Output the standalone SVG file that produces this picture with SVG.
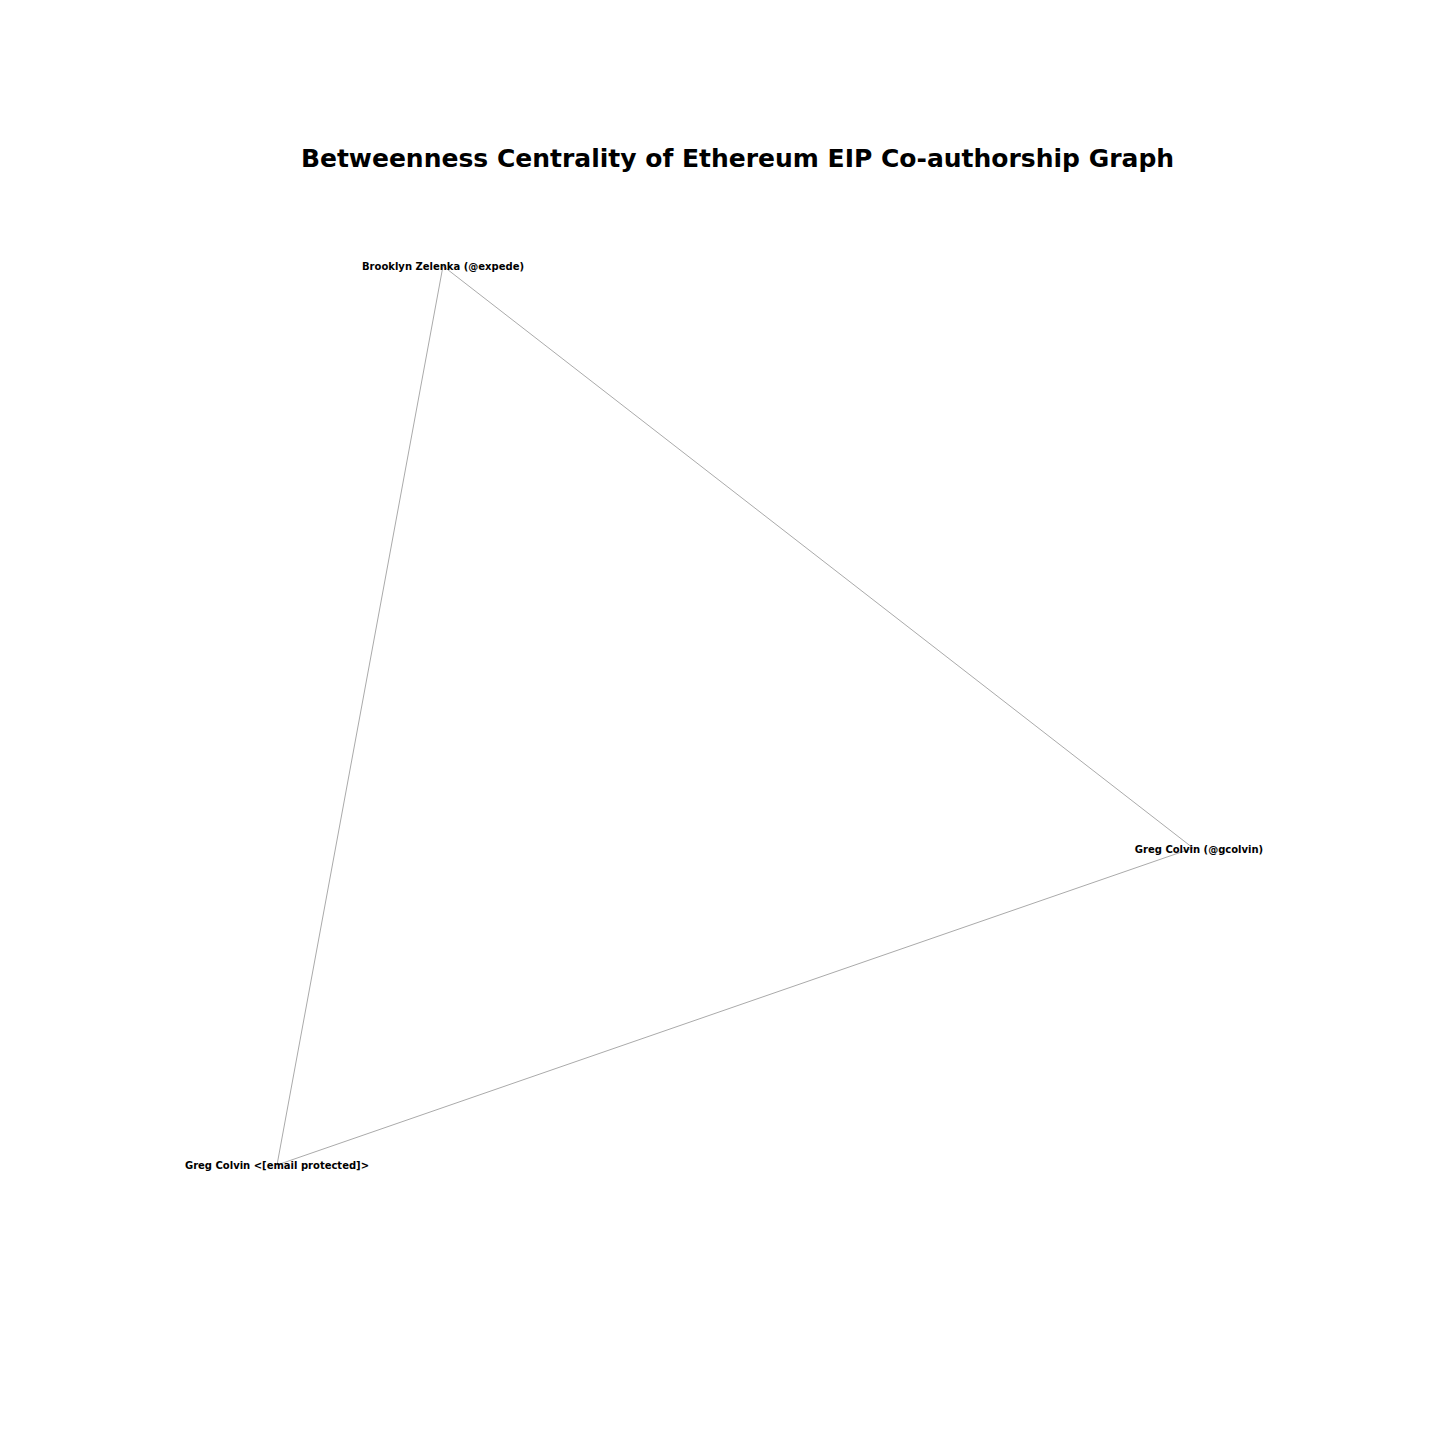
<svg xmlns="http://www.w3.org/2000/svg" width="1440" height="1440" viewBox="0 0 1440 1440">
<style>
.edge{stroke:#aaaaaa;stroke-width:1;fill:none}
.lbl{font-family:"DejaVu Sans",sans-serif;font-weight:bold;font-size:10px;fill:#000;text-anchor:middle}
.title{font-family:"DejaVu Sans",sans-serif;font-weight:bold;font-size:25px;fill:#000;text-anchor:middle}
</style>
<rect width="1440" height="1440" fill="#fff"/>
<text class="title" x="737.5" y="167">Betweenness Centrality of Ethereum EIP Co-authorship Graph</text>
<g id="edges">
<line class="edge" x1="443" y1="266" x2="1193" y2="848"/>
<line class="edge" x1="443" y1="266" x2="277" y2="1165"/>
<line class="edge" x1="1193" y1="848" x2="277" y2="1165"/>
</g>
<g id="node-brooklyn"><text class="lbl" x="443" y="270">Brooklyn Zelenka (@expede)</text></g>
<g id="node-gcolvin"><text class="lbl" x="1199" y="853">Greg Colvin (@gcolvin)</text></g>
<g id="node-gregemail"><text class="lbl" x="277" y="1169">Greg Colvin &lt;[email protected]&gt;</text></g>
</svg>
